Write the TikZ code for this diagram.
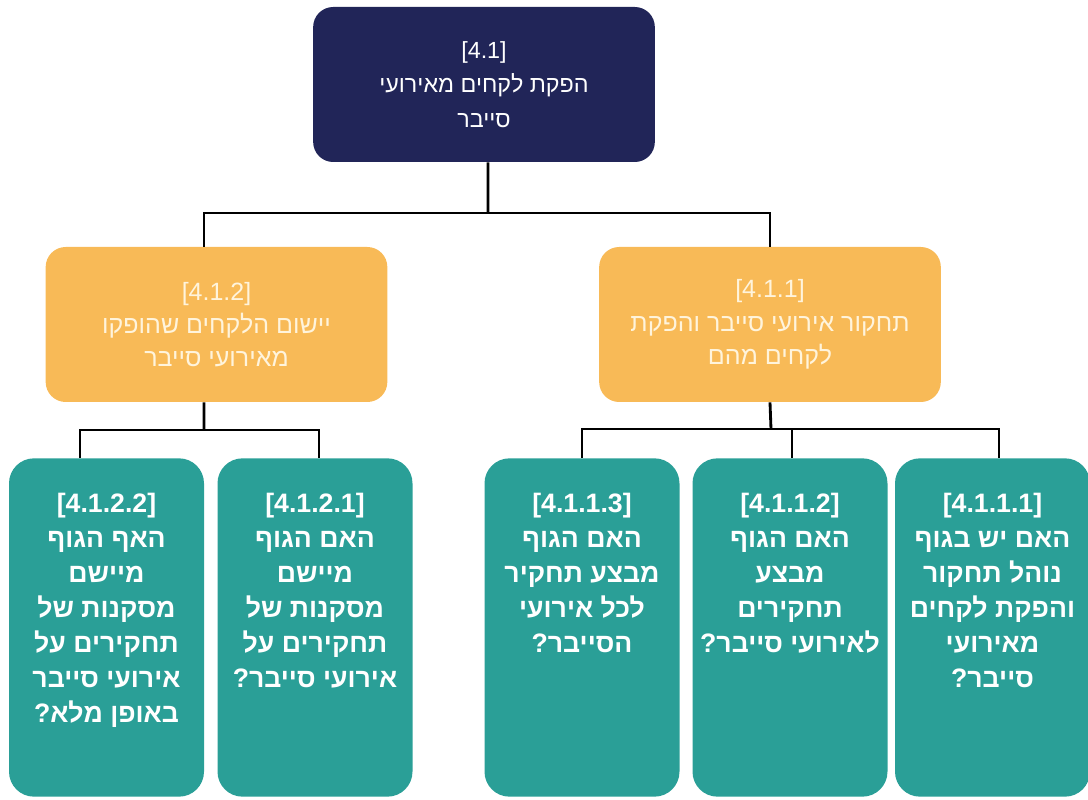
\documentclass[tikz,border=0pt]{standalone}
\usepackage{fontspec}
\usepackage{tikz}
\newfontfamily\hebfont[Script=Hebrew]{Liberation Sans}
\TeXXeTstate=1
\newcommand{\rl}[1]{\beginR #1\endR}
\newcommand{\qtext}[1]{\parbox[c][203pt][t]{117pt}{\centering\vspace*{21pt}#1}}
\definecolor{navy}{HTML}{212558}
\definecolor{amber}{HTML}{F8BA57}
\definecolor{qteal}{HTML}{2A9F97}
\definecolor{cream}{HTML}{FFF4DC}
\tikzset{
  rootbox/.style={fill=navy, rounded corners=12pt, minimum width=205pt, minimum height=93pt,
    text=white, align=center, font=\hebfont\fontsize{14}{20.5}\selectfont},
  subbox/.style={fill=amber, rounded corners=12pt, minimum width=205pt, minimum height=93pt,
    text=cream, align=center, font=\hebfont\fontsize{15}{20}\selectfont},
  qbox/.style={fill=qteal, rounded corners=15pt, inner sep=0pt,
    text=white, font=\hebfont\bfseries\fontsize{16}{21}\selectfont},
  link/.style={draw=black, line width=1.7pt}
}

\begin{document}
\begin{tikzpicture}[x=0.6pt, y=-0.6pt]
        \useasboundingbox (0,0) rectangle (1088,800);
        \node[rootbox] (root) at (484,84.5) {[4.1]\\ \rl{הפקת לקחים מאירועי}\\ \rl{סייבר}};
        \node[subbox] (ylw2) at (216.5,324.5) {[4.1.2]\\ \rl{יישום הלקחים שהופקו}\\ \rl{מאירועי סייבר}};
        \node[subbox] (ylw1) at (770,324.5) {[4.1.1]\\ \rl{תחקור אירועי סייבר והפקת}\\ \rl{לקחים מהם}};
        \node[qbox] (q1222) at (106.5,627.5) {\qtext{[4.1.2.2]\\ \rl{האף הגוף}\\ \rl{מיישם}\\ \rl{מסקנות של}\\ \rl{תחקירים על}\\ \rl{אירועי סייבר}\\ \rl{באופן מלא?}}};
        \node[qbox] (q1221) at (315,627.5) {\qtext{[4.1.2.1]\\ \rl{האם הגוף}\\ \rl{מיישם}\\ \rl{מסקנות של}\\ \rl{תחקירים על}\\ \rl{אירועי סייבר?}}};
        \node[qbox] (q1113) at (582,627.5) {\qtext{[4.1.1.3]\\ \rl{האם הגוף}\\ \rl{מבצע תחקיר}\\ \rl{לכל אירועי}\\ \rl{הסייבר?}}};
        \node[qbox] (q1112) at (790,627.5) {\qtext{[4.1.1.2]\\ \rl{האם הגוף}\\ \rl{מבצע}\\ \rl{תחקירים}\\ \rl{לאירועי סייבר?}}};
        \node[qbox] (q1111) at (992.5,627.5) {\qtext{[4.1.1.1]\\ \rl{האם יש בגוף}\\ \rl{נוהל תחקור}\\ \rl{והפקת לקחים}\\ \rl{מאירועי}\\ \rl{סייבר?}}};
        \coordinate (bar0) at (488,213);
        \coordinate (bar2) at (204,430);
        \coordinate (bar1) at (771,429);
        \draw[link] ([xshift=2.4pt]root.south) -- (bar0);
        \draw[link] ([xshift=-7.5pt]ylw2.north) |- (bar0) -| (ylw1.north);
        \draw[link] ([xshift=-7.5pt]ylw2.south) -- (bar2);
        \draw[link] ([xshift=-15.9pt]q1222.north) |- (bar2) -| ([xshift=2.4pt]q1221.north);
        \draw[link] (ylw1.south) -- (bar1);
        \draw[link] (q1113.north) |- (bar1) -| ([xshift=3.9pt]q1111.north);
        \draw[link] ([xshift=1.2pt]q1112.north) -- ([xshift=1.2pt]q1112.north |- bar1);
      \end{tikzpicture}
\end{document}
